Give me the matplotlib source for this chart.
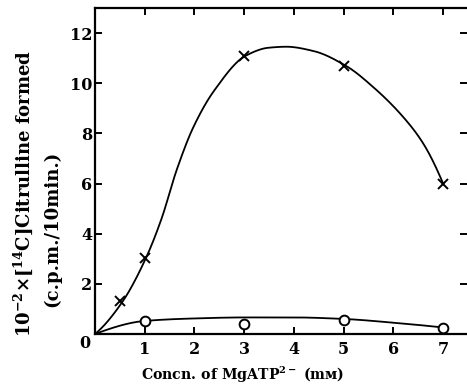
import numpy as np
import matplotlib
matplotlib.use('Agg')
from matplotlib import pyplot as plt

# Points
conc_x = [0.5, 1, 3, 5, 7]
cit_x = [1.3, 3.05, 11.1, 10.7, 6.0]
conc_o = [1, 3, 5, 7]
cit_o = [0.5, 0.4, 0.55, 0.25]

# Hand-drawn curves
curve_x_x = [0, 0.54, 1.02, 1.34, 1.64, 1.98, 2.4, 3.03, 3.49, 3.85, 4.39, 5.06, 5.6, 6.2, 6.6, 7.0]
curve_x_y = [0, 1.25, 3.01, 4.61, 6.53, 8.26, 9.72, 11.1, 11.42, 11.46, 11.29, 10.68, 9.84, 8.65, 7.6, 6.0]
curve_o_x = [0, 1.0, 2.0, 3.0, 4.0, 5.0, 6.0, 7.0]
curve_o_y = [0, 0.52, 0.62, 0.66, 0.66, 0.6, 0.45, 0.26]

plt.rcParams['font.family'] = ['DejaVu Serif']
plt.rcParams['mathtext.fontset'] = 'dejavuserif'


def pchip(xs, ys, n=400):
    # shape-preserving cubic through the traced points
    x = np.asarray(xs, float)
    y = np.asarray(ys, float)
    h = np.diff(x)
    dl = np.diff(y) / h
    d = np.zeros(len(x))
    for k in range(1, len(x) - 1):
        if dl[k - 1] * dl[k] > 0:
            w1 = 2 * h[k] + h[k - 1]
            w2 = h[k] + 2 * h[k - 1]
            d[k] = (w1 + w2) / (w1 / dl[k - 1] + w2 / dl[k])
    d[0] = ((2 * h[0] + h[1]) * dl[0] - h[0] * dl[1]) / (h[0] + h[1])
    d[-1] = ((2 * h[-1] + h[-2]) * dl[-1] - h[-1] * dl[-2]) / (h[-1] + h[-2])
    xx = np.linspace(x[0], x[-1], n)
    j = np.clip(np.searchsorted(x, xx) - 1, 0, len(x) - 2)
    t = (xx - x[j]) / h[j]
    h00 = 2 * t ** 3 - 3 * t ** 2 + 1
    h10 = t ** 3 - 2 * t ** 2 + t
    h01 = -2 * t ** 3 + 3 * t ** 2
    h11 = t ** 3 - t ** 2
    yy = h00 * y[j] + h10 * h[j] * d[j] + h01 * y[j + 1] + h11 * h[j] * d[j + 1]
    return xx, yy


fig = plt.figure(dpi=100, figsize=(4.67, 3.87))
ax = fig.add_axes([0.2034, 0.137, 0.7966, 0.842])

sx, sy = pchip(curve_x_x, curve_x_y)
ax.plot(sx, sy, c='black', lw=1.3)
sx, sy = pchip(curve_o_x, curve_o_y)
ax.plot(sx, sy, c='black', lw=1.3)

ax.plot(conc_x, cit_x, ls='none', marker='x', ms=7, mew=1.4, c='black')
ax.plot(conc_o, cit_o, ls='none', marker='o', ms=7, mew=1.4, mfc='white', mec='black')

ax.set_xlim(0, 7.48)
ax.set_ylim(0, 13)
ax.spines['right'].set_visible(False)
for s in ('left', 'bottom', 'top'):
    ax.spines[s].set_linewidth(1.6)

ax.set_xticks(range(1, 8))
ax.set_yticks(range(2, 13, 2))
ax.tick_params(axis='both', direction='in', length=5, width=1.4, labelsize=11.5,
               top=True, right=True)
ax.tick_params(axis='x', pad=5)
ax.tick_params(axis='y', pad=2)
for lab in ax.get_xticklabels() + ax.get_yticklabels():
    lab.set_fontweight('bold')
fig.text(85 / 467, 1 - 343 / 387, '0', ha='center', va='center', fontsize=11.5, fontweight='bold')

fig.text(0.520, 0.031, r'Concn. of MgATP$^{\mathbf{2-}}$ (mᴍ)', ha='center', va='center',
         fontsize=10.2, fontweight='bold')
fig.text(23 / 467, 1 - 193 / 387, '10$^{\\mathbf{-2}}$\u00d7[$^{\\mathbf{14}}$C]Citrulline formed',
         ha='center', va='center', rotation=90, fontsize=13, fontweight='bold')
fig.text(52 / 467, 1 - 229 / 387, '(c.p.m./10min.)',
         ha='center', va='center', rotation=90, fontsize=13, fontweight='bold')

fig.savefig('out.png', dpi=100)
